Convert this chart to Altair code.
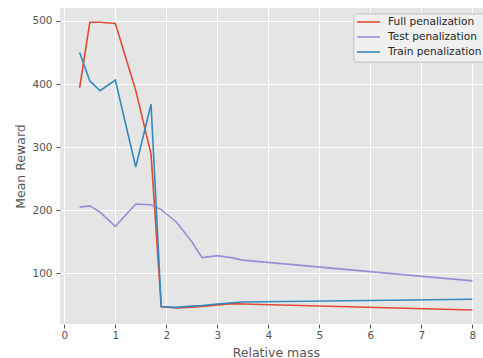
import altair as alt
import pandas as pd

# Data
mass = [0.3, 0.5, 0.7, 1.0, 1.4, 1.7, 1.9, 2.2, 2.5, 2.7, 3.0, 3.3, 3.5, 8.0]
full_pen = [394, 498, 498, 496, 390, 289, 47, 45, 46.5, 47.5, 50, 52, 51.5, 42]
test_pen = [205, 207, 197, 174.5, 210, 208.7, 201, 181, 150, 125, 128, 124.5, 121, 88]
train_pen = [450, 405, 389.5, 406.5, 268.5, 368, 47.5, 46, 48, 49, 51.5, 53.5, 54.5, 59]

series_names = ["Full penalization", "Test penalization", "Train penalization"]
series_colors = ["#E24A33", "#988ED5", "#348ABD"]
x_ticks = [0, 1, 2, 3, 4, 5, 6, 7, 8]
y_ticks = [100, 200, 300, 400, 500]

rows = []
for name, vals in zip(series_names, [full_pen, test_pen, train_pen]):
    for i, (m, v) in enumerate(zip(mass, vals)):
        rows.append({"series": name, "mass": m, "reward": v, "order": i})
df = pd.DataFrame(rows)

legend_df = pd.DataFrame({"series": series_names, "idx": [0, 1, 2]})

W, H = 423, 316
FONT = "DejaVu Sans"

xscale = alt.Scale(domain=[-0.085, 8.209], nice=False, zero=False)
yscale = alt.Scale(domain=[19.7, 520.6], nice=False, zero=False)
cscale = alt.Scale(domain=series_names, range=series_colors)
legend_y = alt.Y("idx:Q", scale=alt.Scale(domain=[0, 2], range=[14, 44], nice=False, zero=False), axis=None)

lines = alt.Chart(df).mark_line(strokeWidth=1.6, clip=True).encode(
    x=alt.X("mass:Q", scale=xscale,
            axis=alt.Axis(values=x_ticks, title="Relative mass", grid=True,
                          titleX=215.8, titleY=28, titleBaseline="middle",
                          labelPadding=2)),
    y=alt.Y("reward:Q", scale=yscale,
            axis=alt.Axis(values=y_ticks, title="Mean Reward", grid=True,
                          titleX=-40, titleY=158, titleBaseline="middle",
                          titleAngle=270, titleAlign="center",
                          labelPadding=4)),
    color=alt.Color("series:N", scale=cscale, legend=None),
    detail="series:N",
    order="order:Q",
)

legend_box = alt.Chart(legend_df).mark_rect(
    fill="#f0f0f0", stroke="#cccccc", strokeWidth=1, cornerRadius=3, clip=True
).encode(
    x=alt.value(294), x2=alt.value(460), y=alt.value(6), y2=alt.value(54)
)

legend_lines = alt.Chart(legend_df).mark_rule(strokeWidth=1.6).encode(
    x=alt.value(297), x2=alt.value(320),
    y=legend_y,
    color=alt.Color("series:N", scale=cscale, legend=None),
)

legend_text = alt.Chart(legend_df).mark_text(
    align="left", baseline="middle", font=FONT, fontSize=10.6, color="#262626", clip=True
).encode(
    x=alt.value(328),
    y=legend_y,
    text="series:N",
)

chart = alt.layer(lines, legend_box, legend_lines, legend_text).resolve_scale(
    y="independent"
).properties(
    width=W, height=H,
    autosize=alt.AutoSizeParams(type="none"),
    padding={"left": 60, "top": 8, "right": 0, "bottom": 34},
    background="white",
).configure_view(
    fill="#E5E5E5", stroke=None
).configure_axis(
    gridColor="white", gridWidth=1, domain=False,
    tickColor="#555555", tickSize=4, tickWidth=1,
    labelColor="#555555", labelFont=FONT, labelFontSize=10.5,
    titleColor="#555555", titleFont=FONT, titleFontSize=12.5, titleFontWeight="normal",
)

chart.save("out.html", embed_options={"renderer": "svg", "actions": False})
